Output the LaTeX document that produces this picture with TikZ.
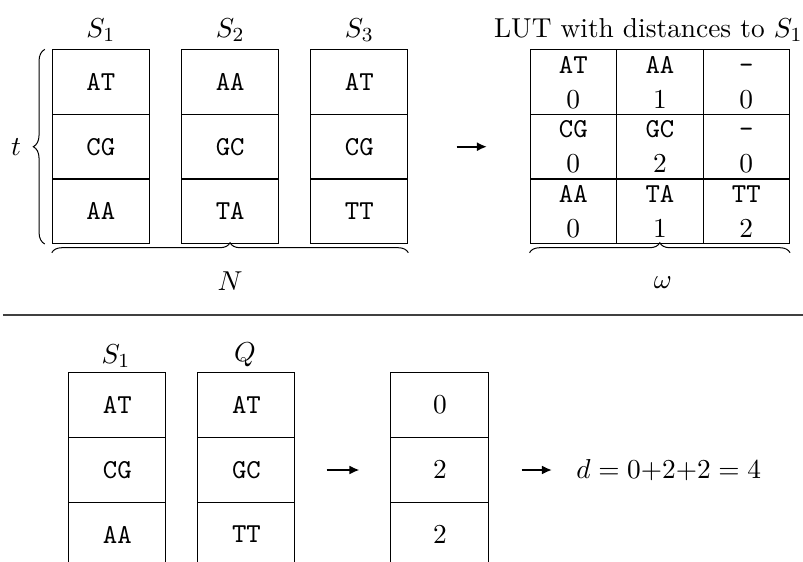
\documentclass[tikz,border=0pt]{standalone}
\usetikzlibrary{arrows.meta,decorations.pathreplacing}
\newcommand{\elevenpt}{\fontsize{10.95}{13.4}\selectfont}
\newcommand{\lutentry}[2]{\texttt{#1}\vphantom{\texttt{A}}\\$#2$}
\begin{document}
\begin{tikzpicture}[x=0.4pt,y=-0.4pt,
  every node/.style={font=\elevenpt},
  cell/.style={draw, minimum width=38.8pt, minimum height=25.85pt, inner sep=0pt, font=\elevenpt\ttfamily},
  lutcell/.style={draw, minimum width=34.6pt, minimum height=25.85pt, inner sep=0pt, align=center,
    font=\fontsize{10.95}{14}\selectfont},
  numcell/.style={draw, minimum width=39.2pt, minimum height=25.85pt, inner sep=0pt},
  conn/.style={line width=0.8pt, -{Latex[length=4pt,width=3.6pt]}},
  brc/.style={decorate, decoration={brace, amplitude=4pt}},
]
\useasboundingbox (0,0) rectangle (803,562);

% ---- sequences S1, S2, S3 ----
\node (lS1) at (100.8,30) {$S_1$};
\node (lS2) at (230.2,30) {$S_2$};
\node (lS3) at (359.3,30) {$S_3$};

\node[cell] (a1) at (100.8,82.2) {AT};
\node[cell] (a2) at (100.8,146.7) {CG};
\node[cell] (a3) at (100.8,211.2) {AA};
\node[cell] (b1) at (230.2,82.2) {AA};
\node[cell] (b2) at (230.2,146.7) {GC};
\node[cell] (b3) at (230.2,211.2) {TA};
\node[cell] (c1) at (359.3,82.2) {AT};
\node[cell] (c2) at (359.3,146.7) {CG};
\node[cell] (c3) at (359.3,211.2) {TT};

% braces for t and N
\draw[brc, decoration={amplitude=4.6pt}] ([xshift=-7*0.4pt]a3.south west) -- ([xshift=-7*0.4pt]a1.north west);
\node (tl) at (16,147) {$t$};
\draw[brc] ([yshift=-8.7*0.4pt]a3.south west) -- ([yshift=-8.7*0.4pt]c3.south east);
\node (Nl) at (230,281) {$N$};

% ---- lookup table ----
\node[anchor=east, inner xsep=0pt] (luttitle) at (803,30) {LUT with distances to $S_1$};
\node[lutcell] (l11) at (573.3,82.2) {\lutentry{AT}{0}};
\node[lutcell] (l12) at (660,82.2) {\lutentry{AA}{1}};
\node[lutcell] (l13) at (746.3,82.2) {\lutentry{-}{0}};
\node[lutcell] (l21) at (573.3,146.7) {\lutentry{CG}{0}};
\node[lutcell] (l22) at (660,146.7) {\lutentry{GC}{2}};
\node[lutcell] (l23) at (746.3,146.7) {\lutentry{-}{0}};
\node[lutcell] (l31) at (573.3,211.2) {\lutentry{AA}{0}};
\node[lutcell] (l32) at (660,211.2) {\lutentry{TA}{1}};
\node[lutcell] (l33) at (746.3,211.2) {\lutentry{TT}{2}};
\draw[brc] ([yshift=-8.7*0.4pt]l31.south west) -- ([yshift=-8.7*0.4pt]l33.south east);
\node (wl) at (663,283) {$\omega$};

\coordinate (ar1s) at (456.7,146.7);
\coordinate (ar1e) at (487,146.7);
\draw[conn] (ar1s) -- (ar1e);

% ---- separator ----
\coordinate (sepl) at (3,315);
\coordinate (sepr) at (803,315);
\draw[line width=0.6pt, black!75] (sepl) -- (sepr);

% ---- query comparison ----
\node (lS1q) at (116,356) {$S_1$};
\node (lQ) at (245,355) {$Q$};
\node[cell] (p1) at (117.3,405) {AT};
\node[cell] (p2) at (117.3,469.8) {CG};
\node[cell] (p3) at (117.3,534.6) {AA};
\node[cell] (q1) at (246.5,405) {AT};
\node[cell] (q2) at (246.5,469.8) {GC};
\node[cell] (q3) at (246.5,534.6) {TT};

\coordinate (ar2s) at (326.7,470);
\coordinate (ar2e) at (359.5,470);
\draw[conn] (ar2s) -- (ar2e);

\node[numcell] (r1) at (440,405) {$0$};
\node[numcell] (r2) at (440,469.8) {$2$};
\node[numcell] (r3) at (440,534.6) {$2$};

\coordinate (ar3s) at (521.7,470);
\coordinate (ar3e) at (552,470);
\draw[conn] (ar3s) -- (ar3e);

\node[anchor=west, inner sep=0pt] (dsum) at (576,470) {$d = 0{+}2{+}2 = 4$};
\end{tikzpicture}
\end{document}
